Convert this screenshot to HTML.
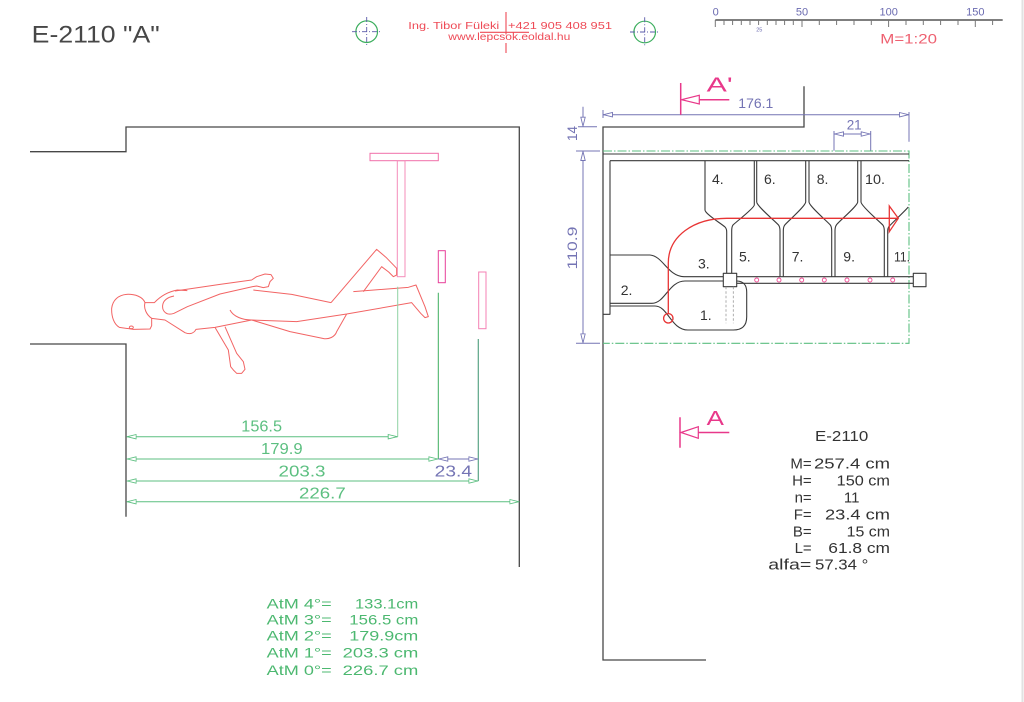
<!DOCTYPE html>
<html><head><meta charset="utf-8"><style>
html,body{margin:0;padding:0;background:#fff;}
svg{display:block;}
text{font-family:"Liberation Sans",sans-serif;}
</style></head><body>
<svg width="1024" height="702" viewBox="0 0 1024 702" xmlns="http://www.w3.org/2000/svg">
<defs>
<marker id="ag" viewBox="0 0 10 6" refX="10" refY="3" markerWidth="10" markerHeight="6" markerUnits="userSpaceOnUse" orient="auto-start-reverse"><path d="M0.5,0.8 L9.5,3 L0.5,5.2 Z" fill="#fff" stroke="#5cbf80" stroke-width="0.9"/></marker>
<marker id="ap" viewBox="0 0 10 6" refX="10" refY="3" markerWidth="10" markerHeight="6" markerUnits="userSpaceOnUse" orient="auto-start-reverse"><path d="M0.5,0.8 L9.5,3 L0.5,5.2 Z" fill="#fff" stroke="#7474b4" stroke-width="0.9"/></marker>
</defs>
<rect width="1024" height="702" fill="#fff"/>
<line x1="1022.5" y1="0" x2="1022.5" y2="702" stroke="#e2e2e2" stroke-width="2"/>

<!-- HEADER -->
<text x="31.7" y="42.7" font-size="24" fill="#474747" textLength="128" lengthAdjust="spacingAndGlyphs">E-2110 "A"</text>
<g fill="none">
<circle cx="366.7" cy="31.7" r="10.8" stroke="#3cae5e" stroke-width="1.2"/>
<path d="M352,31.7 H381 M366.7,17 V46" stroke="#5a5aa8" stroke-width="0.9" stroke-dasharray="5,2,1,2"/>
<circle cx="644.7" cy="32" r="10.8" stroke="#3cae5e" stroke-width="1.2"/>
<path d="M630,32 H659 M644.7,17.3 V46.7" stroke="#5a5aa8" stroke-width="0.9" stroke-dasharray="5,2,1,2"/>
</g>
<g fill="#ee4a56" font-size="10">
<text x="408.3" y="29" textLength="91" lengthAdjust="spacingAndGlyphs">Ing. Tibor Füleki</text>
<text x="508" y="29" textLength="104" lengthAdjust="spacingAndGlyphs">+421 905 408 951</text>
<text x="448.3" y="40" textLength="122" lengthAdjust="spacingAndGlyphs">www.lepcsok.eoldal.hu</text>
</g>
<path d="M480,32.3 H529 M506,12 V34.5 M506,43 V53" stroke="#ee4a56" stroke-width="1.1" fill="none"/>

<!-- scale ruler -->
<line x1="715.3" y1="20" x2="1002.7" y2="20" stroke="#555" stroke-width="1.5"/>
<path d="M715.3,20V27 M724,20V25 M732.6,20V25 M741.3,20V25 M750,20V25 M758.6,20V25 M767.3,20V25 M776,20V25 M784.6,20V25 M793.3,20V25 M802,20V27 M819.3,20V25 M836.6,20V25 M854,20V25 M871.3,20V25 M888.6,20V27 M906,20V25 M923.3,20V25 M940.6,20V25 M958,20V25 M975.3,20V27 M992.6,20V25" stroke="#777" stroke-width="1"/>
<g fill="#6a6ab0" font-size="11" text-anchor="middle">
<text x="715.7" y="15.7">0</text>
<text x="802" y="15.7">50</text>
<text x="888.7" y="15.7">100</text>
<text x="975.3" y="15.7">150</text>
<text x="759.3" y="31.5" font-size="5.5">25</text>
</g>
<text x="880.3" y="43.3" font-size="14" fill="#ee6070" textLength="56.7" lengthAdjust="spacingAndGlyphs">M=1:20</text>

<!-- LEFT VIEW -->
<path d="M30,151.7 H126 V127 H519.3 V567 M30,344 H126 V516.7" fill="none" stroke="#474747" stroke-width="1.3"/>
<g fill="none" stroke-width="1">
<rect x="370" y="153.3" width="68.3" height="7.4" stroke="#f070a8"/>
<rect x="397.3" y="160.7" width="7.7" height="116" stroke="#f48cba"/>
<rect x="438.3" y="250.7" width="7" height="32" stroke="#e8409a"/>
<rect x="478.7" y="272" width="7.3" height="56.7" stroke="#f480b4"/>
</g>
<g transform="translate(100 140) scale(0.33333)" fill="none" stroke="#f26464" stroke-width="3" stroke-linejoin="round">
<path d="M155,535 C140,525 130,505 135,488 C128,470 105,462 80,463 C55,465 38,480 35,505 C34,530 42,553 58,562 L100,568 L150,567 L155,557 Z"/>
<path d="M88,562 a6,4 0 1,0 12,0 a6,4 0 1,0 -12,0"/>
<path d="M135,488 L163,488 C180,470 205,455 232,450 L262,452"/>
<path d="M225,453 L360,433 L455,420 L470,410 L495,402 L513,404 L520,415 L510,425 L505,440 L490,443 L470,438 L458,440 L360,462 L262,500 L222,520 C200,528 186,514 188,496 C190,480 202,472 222,468"/>
<path d="M460,450 L575,463 L693,488"/>
<path d="M693,488 L830,328 L858,352 L890,385 L890,405 L880,410 L866,396 L845,380 L790,455"/>
<path d="M760,455 L925,442 L948,435 L975,500 L985,530 L975,533 L962,520 L935,488 L740,522"/>
<path d="M390,510 C400,530 428,540 455,540 L590,545 L740,522"/>
<path d="M455,540 L570,575 L668,595 C686,600 705,590 710,575 L740,522"/>
<path d="M155,535 L195,540 L255,578 C270,584 282,580 288,568 L345,562 L455,540"/>
<path d="M345,562 L385,630 L392,680 L400,690 L410,700 L425,700 L435,688 L430,665 L410,640 L375,560"/>
</g>
<!-- extension lines -->
<line x1="397.7" y1="286.7" x2="397.7" y2="436.7" stroke="#90d2a4" stroke-width="1"/>
<line x1="438.3" y1="292.7" x2="438.3" y2="459" stroke="#3cae5e" stroke-width="1"/>
<line x1="478.3" y1="339" x2="478.3" y2="481" stroke="#5aa486" stroke-width="1.2"/>
<!-- dims -->
<g stroke="#5cbf80" stroke-width="1" fill="none">
<line x1="126.7" y1="436.7" x2="397.7" y2="436.7" marker-start="url(#ag)" marker-end="url(#ag)"/>
<line x1="126.7" y1="459" x2="438.3" y2="459" marker-start="url(#ag)" marker-end="url(#ag)"/>
<line x1="126.7" y1="481" x2="478.3" y2="481" marker-start="url(#ag)" marker-end="url(#ag)"/>
<line x1="126.7" y1="501.7" x2="519.3" y2="501.7" marker-start="url(#ag)" marker-end="url(#ag)"/>
</g>
<line x1="438.3" y1="459" x2="478.3" y2="459" stroke="#7474b4" stroke-width="1" marker-start="url(#ap)" marker-end="url(#ap)"/>
<g fill="#5cbf80" font-size="16">
<text x="241.3" y="431.7" textLength="40.7" lengthAdjust="spacingAndGlyphs">156.5</text>
<text x="261" y="454" textLength="41.7" lengthAdjust="spacingAndGlyphs">179.9</text>
<text x="278.5" y="476.7" textLength="47" lengthAdjust="spacingAndGlyphs">203.3</text>
<text x="299" y="498.3" textLength="46.7" lengthAdjust="spacingAndGlyphs">226.7</text>
</g>
<text x="434.7" y="476.7" font-size="16" fill="#7474b4" textLength="37.3" lengthAdjust="spacingAndGlyphs">23.4</text>

<!-- bottom-left list -->
<g fill="#4cb870" font-size="14">
<text x="266.7" y="608.3" textLength="65" lengthAdjust="spacingAndGlyphs">AtM 4°=</text>
<text x="355" y="608.3" textLength="63.3" lengthAdjust="spacingAndGlyphs">133.1cm</text>
<text x="266.7" y="624.3" textLength="65" lengthAdjust="spacingAndGlyphs">AtM 3°=</text>
<text x="349.3" y="624.3" textLength="69" lengthAdjust="spacingAndGlyphs">156.5 cm</text>
<text x="266.7" y="640.7" textLength="65" lengthAdjust="spacingAndGlyphs">AtM 2°=</text>
<text x="349.3" y="640.7" textLength="69" lengthAdjust="spacingAndGlyphs">179.9cm</text>
<text x="266.7" y="657.7" textLength="65" lengthAdjust="spacingAndGlyphs">AtM  1°=</text>
<text x="342.7" y="657.7" textLength="75.6" lengthAdjust="spacingAndGlyphs">203.3 cm</text>
<text x="266.7" y="675" textLength="65" lengthAdjust="spacingAndGlyphs">AtM 0°=</text>
<text x="342.7" y="675" textLength="75.6" lengthAdjust="spacingAndGlyphs">226.7 cm</text>
</g>

<!-- PLAN VIEW -->
<path d="M804,86.3 V127 H603 V660 H706" fill="none" stroke="#474747" stroke-width="1.3"/>
<!-- purple dims -->
<g stroke="#7474b4" stroke-width="1" fill="none">
<line x1="603" y1="114.7" x2="909" y2="114.7" marker-start="url(#ap)" marker-end="url(#ap)"/>
<path d="M603,110 V118 M909,112 V141.7"/>
<path d="M834,131 V150.7 M870.7,131 V150.7"/>
<line x1="834" y1="134" x2="870.7" y2="134" marker-start="url(#ap)" marker-end="url(#ap)"/>
<line x1="583" y1="106.7" x2="583" y2="126.7" marker-end="url(#ap)"/>
<line x1="583" y1="151" x2="583" y2="343.3" marker-start="url(#ap)" marker-end="url(#ap)"/>
<path d="M578,126.7 H597 M576,151 H600 M576,343.3 H600"/>
</g>
<g fill="#7474b4" font-size="14">
<text x="738.3" y="108" textLength="35" lengthAdjust="spacingAndGlyphs">176.1</text>
<text x="846.7" y="129.3" textLength="15" lengthAdjust="spacingAndGlyphs">21</text>
<text transform="translate(577 133.5) rotate(-90)" text-anchor="middle" textLength="15" lengthAdjust="spacingAndGlyphs">14</text>
<text transform="translate(577 248) rotate(-90)" text-anchor="middle" textLength="43" lengthAdjust="spacingAndGlyphs">110.9</text>
</g>
<!-- section marks -->
<g stroke="#e8388a" stroke-width="1.5" fill="none">
<path d="M680.7,83 V114.7 M699.3,99.7 H729.3"/>
<path d="M681.5,99.7 L699.3,95.3 L699.3,104 Z" stroke-width="1.2"/>
<path d="M680,417.3 V447.7 M698.3,432.5 H729.3"/>
<path d="M681,432.5 L698.3,426.7 L698.3,438.3 Z" stroke-width="1.2"/>
</g>
<g fill="#e8388a" font-size="20">
<text x="706.7" y="91.3" textLength="26" lengthAdjust="spacingAndGlyphs">A'</text>
<text x="706.7" y="425" textLength="17.3" lengthAdjust="spacingAndGlyphs">A</text>
</g>
<!-- green dash-dot outline -->
<path d="M603,151 H909 V343.3 H603" fill="none" stroke="#5cbf80" stroke-width="1.1" stroke-dasharray="9,2,1.5,2"/>
<!-- stair lines -->
<g fill="none" stroke="#3a3a3a" stroke-width="1.1" stroke-linejoin="round">
<path d="M603,154 H909 M610,160.7 H909 M610,160.7 V314.3 H603"/>
<path d="M705,160.7 V210 C705,214 722,224 725,227 C726.5,228.5 726.7,230 726.7,232 V273.3"/>
<path d="M754.3,160.7 V205 C754.3,208 736,222 733,225 C731.8,226.5 731.7,228 731.7,231 V273.3"/>
<path d="M756.7,160.7 V202 C756.7,206 776,222 778.5,225 C779.8,226.5 780,228 780,231 V276.7"/>
<path d="M805.7,160.7 V202 C805.7,206 787,222 784.8,225 C783.5,226.5 783.3,228 783.3,231 V276.7"/>
<path d="M809,160.7 V202 C809,206 828,222 830.3,225 C831.5,226.5 831.7,228 831.7,231 V276.7"/>
<path d="M857.7,160.7 V202 C857.7,206 838,222 836.4,225 C835.2,226.5 835,228 835,231 V276.7"/>
<path d="M861,160.7 V202 C861,206 880,222 882.8,225 C884.1,226.5 884.3,228 884.3,231 V276.7"/>
<path d="M908.3,207 C905,211 891,224 889,226.5 C887.9,228 887.7,229 887.7,231 V276.7"/>
<path d="M736.7,276.7 H913.3 M736.7,283.3 H913.3"/>
<rect x="723.3" y="273.3" width="13.4" height="13.4"/>
<rect x="913.3" y="273.3" width="12.7" height="13.4"/>
<path d="M610,255 L650,255 C663,256 668,276.5 684,276.7 L723.3,276.7"/>
<path d="M723.3,281 L685,281 C669,281 665,303.3 652,303.3 L610,303.3"/>
<path d="M610,306 L655,306 C668,306 671,330 688,330 L733.3,330 Q746.7,330 746.7,316.7 L746.7,292 Q746.7,281.5 737,281"/>
</g>
<path d="M726,286.7 V323.3 M733.3,286.7 V323.3" stroke="#999" stroke-width="0.8" stroke-dasharray="2.5,2" fill="none"/>
<!-- walking line -->
<g fill="none" stroke="#e83434" stroke-width="1.3">
<path d="M668.3,313.6 V263 C668.3,236 694,218.3 726.7,218.3 H898"/>
<path d="M889.3,206 L898.3,218.3 L889.3,231.7 Z"/>
<circle cx="668.3" cy="318.3" r="4.7"/>
</g>
<g fill="none" stroke="#f04c94" stroke-width="0.9">
<circle cx="756.7" cy="280" r="2"/><circle cx="779" cy="280" r="2"/><circle cx="801.7" cy="280" r="2"/><circle cx="824.3" cy="280" r="2"/><circle cx="847" cy="280" r="2"/><circle cx="870" cy="280" r="2"/><circle cx="892.7" cy="280" r="2"/>
</g>
<g fill="#333" font-size="14">
<text x="712" y="184">4.</text>
<text x="764" y="184">6.</text>
<text x="816.7" y="184">8.</text>
<text x="865" y="184" textLength="20" lengthAdjust="spacingAndGlyphs">10.</text>
<text x="698" y="268.3">3.</text>
<text x="739" y="261.7">5.</text>
<text x="791.7" y="261.7">7.</text>
<text x="843.3" y="261.7">9.</text>
<text x="894" y="261.7" textLength="16" lengthAdjust="spacingAndGlyphs">11.</text>
<text x="620.7" y="295">2.</text>
<text x="700" y="320">1.</text>
</g>

<!-- spec block -->
<g fill="#333" font-size="15">
<text x="815" y="441" textLength="53.3" lengthAdjust="spacingAndGlyphs">E-2110</text>
<text x="811.7" y="468.3" text-anchor="end">M=</text>
<text x="814" y="468.3" textLength="76" lengthAdjust="spacingAndGlyphs">257.4 cm</text>
<text x="811.7" y="485.5" text-anchor="end">H=</text>
<text x="836.7" y="485.5" textLength="53.3" lengthAdjust="spacingAndGlyphs">150 cm</text>
<text x="811.7" y="502.3" text-anchor="end">n=</text>
<text x="851.7" y="502.3" text-anchor="middle">11</text>
<text x="811.7" y="519.3" text-anchor="end">F=</text>
<text x="825" y="519.3" textLength="65" lengthAdjust="spacingAndGlyphs">23.4 cm</text>
<text x="811.7" y="536.3" text-anchor="end">B=</text>
<text x="846.7" y="536.3" textLength="43.3" lengthAdjust="spacingAndGlyphs">15 cm</text>
<text x="811.7" y="553" text-anchor="end">L=</text>
<text x="828.3" y="553" textLength="61.7" lengthAdjust="spacingAndGlyphs">61.8 cm</text>
<text x="768.3" y="569.5" textLength="43" lengthAdjust="spacingAndGlyphs">alfa=</text>
<text x="815" y="569.5" textLength="53.3" lengthAdjust="spacingAndGlyphs">57.34 °</text>
</g>
</svg>
</body></html>
